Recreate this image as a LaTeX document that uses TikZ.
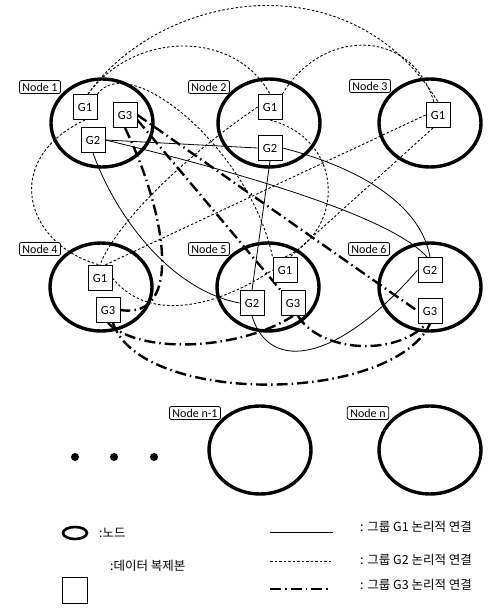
\documentclass[tikz,border=0pt]{standalone}
\usepackage{fontspec}
\setmainfont{Carlito}
\newfontfamily\krfont{Noto Sans CJK KR}
\usetikzlibrary{shapes.geometric,backgrounds}
\begin{document}
\begin{tikzpicture}[x=1pt,y=-1pt,
  nodeell/.style={draw, ellipse, line width=3.4pt, minimum width=102pt, minimum height=88pt, inner sep=0pt},
  nlabel/.style={draw, rounded corners=2pt, fill=white, line width=0.8pt, font=\fontsize{12}{13}\selectfont, inner xsep=3pt, inner ysep=0.8pt, minimum height=13pt},
  rep/.style={draw, fill=white, line width=0.9pt, minimum width=24pt, minimum height=25pt, inner sep=0pt, font=\fontsize{12.5}{13}\selectfont},
  gone/.style={line width=0.8pt},
  gtwo/.style={line width=0.9pt, dash pattern=on 2.5pt off 2pt},
  gthree/.style={line width=2.4pt, dash pattern=on 11pt off 4pt on 1.5pt off 4pt},
  kr/.style={font=\krfont\fontsize{12.5}{14}\selectfont, anchor=west, inner sep=0pt},
]
\useasboundingbox (0,0) rectangle (502,609);

% nodes (ellipses)
\node[nodeell] (n1) at (102,123) {};
\node[nodeell] (n2) at (269,123) {};
\node[nodeell] (n3) at (430,123) {};
\node[nodeell] (n4) at (101,287) {};
\node[nodeell] (n5) at (268,287) {};
\node[nodeell] (n6) at (430,287) {};
\node[nodeell] (nm) at (260,450) {};
\node[nodeell] (nn) at (430,450) {};

% replicas
\node[rep] (a1) at (85,107) {G1};
\node[rep] (a3) at (125,115) {G3};
\node[rep] (a2) at (93,140) {G2};
\node[rep] (b1) at (270,107) {G1};
\node[rep] (b2) at (270,148) {G2};
\node[rep] (c1) at (438,115) {G1};
\node[rep] (d1) at (100,278) {G1};
\node[rep] (d3) at (108,310) {G3};
\node[rep] (e1) at (285,270) {G1};
\node[rep] (e2) at (252,303) {G2};
\node[rep] (e3) at (293,303) {G3};
\node[rep] (f2) at (430,270) {G2};
\node[rep] (f3) at (430,311) {G3};

% labels
\node[nlabel] (l1) at (40,87) {Node 1};
\node[nlabel] (l2) at (209,87) {Node 2};
\node[nlabel] (l3) at (370,86) {Node 3};
\node[nlabel] (l4) at (40,249) {Node 4};
\node[nlabel] (l5) at (209,249) {Node 5};
\node[nlabel] (l6) at (369,249) {Node 6};
\node[nlabel] (lm) at (195,413) {Node n-1};
\node[nlabel] (ln) at (368,413) {Node n};

\begin{scope}[on background layer]
% solid connections
\draw[gone] (a2.east) -- (b2.west);
\draw[gone] (a2.east) .. controls (230,170) and (390,215) .. ([xshift=-3pt]f2.north);
\draw[gone] (a2.south) .. controls (115,215) and (170,290) .. (e2.west);
\draw[gone] (b2.south) -- (e2.north);
\draw[gone] (b2.east) .. controls (350,165) and (420,200) .. (f2.north);
\draw[gone] (e2.south) .. controls (270,375) and (340,360) .. (f2.west);
% dashed connections
\draw[gtwo] ([xshift=3pt]a1.north) .. controls (160,-8) and (350,-42) .. (c1.north);
\draw[gtwo] ([xshift=3pt]a1.north) .. controls (135,30) and (235,30) .. (b1.north);
\draw[gtwo] (b1.north east) .. controls (320,30) and (410,25) .. ([xshift=-4pt]c1.north);
\draw[gtwo] (a1.south) .. controls (0,160) and (25,245) .. (d1.north);
\draw[gtwo] (b1.west) .. controls (180,160) and (115,225) .. (d1.north);
\draw[gtwo] (c1.west) -- ([xshift=5pt]d1.north);
\draw[gtwo] ([xshift=-5pt]c1.south) -- ([xshift=5pt]e1.north);
\draw[gtwo] (b1.south) .. controls (345,140) and (345,230) .. (e1.north);
\draw[gtwo] (a1.north east) .. controls (130,50) and (250,150) .. (e1.north west);
\draw[gtwo] (d1.east) .. controls (150,325) and (220,305) .. (e1.west);
% dash-dot connections
\draw[gthree] (a3.south) .. controls (165,210) and (185,320) .. (d3.east);
\draw[gthree] ([yshift=-5pt]a3.east) -- (e3.north west);
\draw[gthree] (a3.east) -- (f3.west);
\draw[gthree] (d3.south) .. controls (140,355) and (240,350) .. (e3.south);
\draw[gthree] ([xshift=5pt]d3.south) .. controls (140,405) and (390,405) .. (f3.south);
\draw[gthree] ([xshift=5pt]e3.south) .. controls (320,352) and (395,357) .. ([xshift=-4pt]f3.south);
\end{scope}

% dots
\fill (75,457) circle (4pt);
\fill (114,457) circle (4pt);
\fill (154,457) circle (4pt);

% legend
\node[draw, ellipse, line width=2.6pt, minimum width=24pt, minimum height=12pt, inner sep=0pt] (lgE) at (75,533) {};
\node[kr] (t1) at (99,533) {:노드};
\node[draw, line width=0.9pt, minimum width=25pt, minimum height=26pt, inner sep=0pt] (lgS) at (74.5,590) {};
\node[kr] (t2) at (110,566) {:데이터 복제본};
\draw[gone] (270,532) -- (333,532);
\node[kr] (t3) at (360,527) {: 그룹 G1 논리적 연결};
\draw[gtwo] (270,561) -- (333,561);
\node[kr] (t4) at (360,560) {: 그룹 G2 논리적 연결};
\draw[gthree] (270,589) -- (328,589);
\node[kr] (t5) at (360,585) {: 그룹 G3 논리적 연결};
\end{tikzpicture}
\end{document}
